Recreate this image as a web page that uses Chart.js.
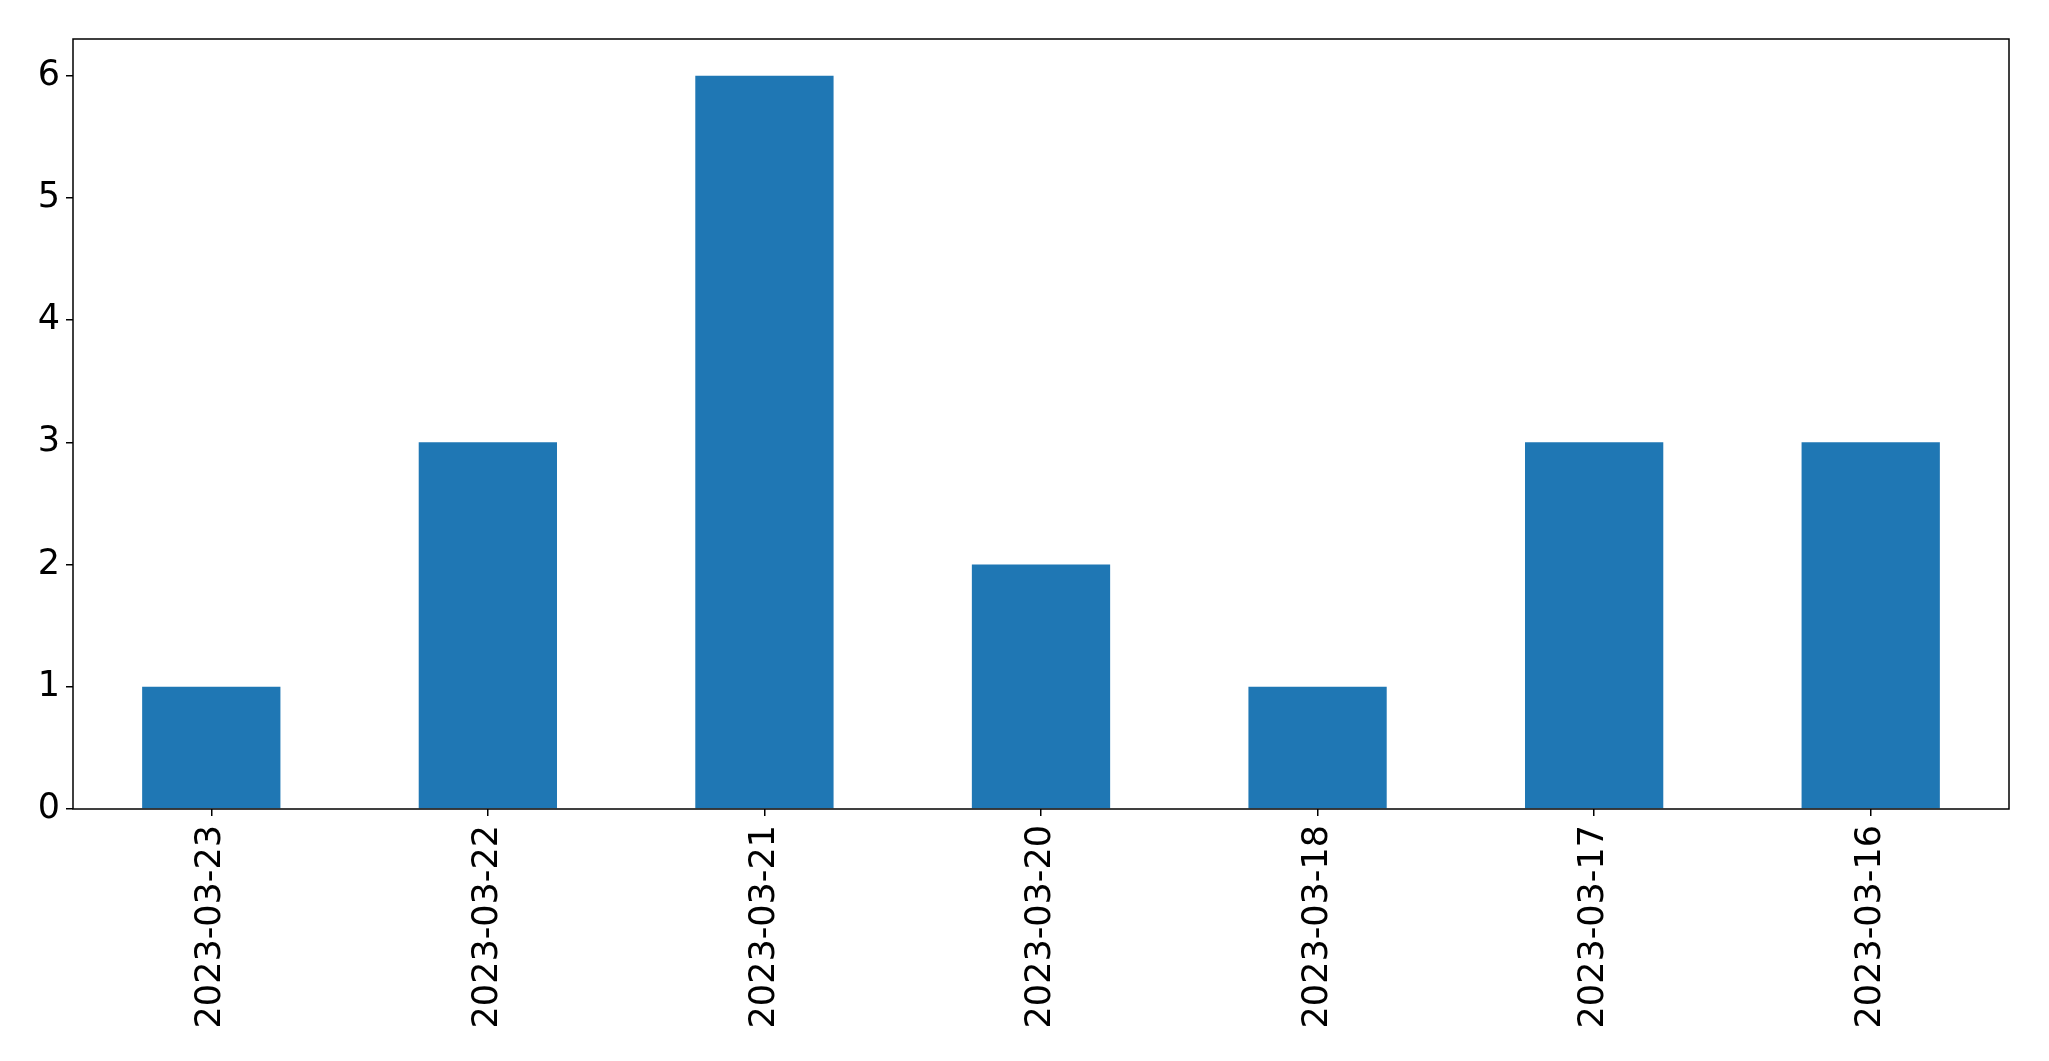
<!DOCTYPE html>
<html>
<head>
<meta charset="utf-8">
<script src="https://cdn.jsdelivr.net/npm/chart.js@4"></script>
<style>
  html, body { margin: 0; padding: 0; background: #fff; }
  #wrap { width: 2049px; height: 1061px; }
</style>
</head>
<body>
<div id="wrap"><canvas id="grafico" width="2049" height="1061"></canvas></div>
<script>
const dias = ['2023-03-23', '2023-03-22', '2023-03-21', '2023-03-20', '2023-03-18', '2023-03-17', '2023-03-16'];
const contagem = [1, 3, 6, 2, 1, 3, 3];
const yTicks = [0, 1, 2, 3, 4, 5, 6];

// moldura preta em volta da area do grafico
const moldura = {
  id: 'moldura',
  afterDraw(chart) {
    const { ctx, chartArea } = chart;
    ctx.save();
    ctx.strokeStyle = '#000';
    ctx.lineWidth = 1.5;
    ctx.strokeRect(chartArea.left, chartArea.top, chartArea.right - chartArea.left, chartArea.bottom - chartArea.top);
    ctx.restore();
  }
};

const fonte = { family: 'DejaVu Sans', size: 35 };

new Chart(document.getElementById('grafico'), {
  type: 'bar',
  data: {
    labels: dias,
    datasets: [{
      data: contagem,
      backgroundColor: '#1f77b4',
      borderWidth: 0,
      categoryPercentage: 1,
      barPercentage: 0.5
    }]
  },
  options: {
    responsive: false,
    animation: false,
    layout: { padding: { top: 39, right: 40, left: 0, bottom: 0 } },
    plugins: { legend: { display: false }, tooltip: { enabled: false } },
    scales: {
      x: {
        offset: true,
        grid: { offset: false, drawOnChartArea: false, drawTicks: true, tickLength: 7, color: '#000', lineWidth: 1.5 },
        border: { display: false },
        ticks: { color: '#000', font: fonte, minRotation: 90, maxRotation: 90, padding: 9, autoSkip: false },
        afterFit(scale) { scale.height = 252; }
      },
      y: {
        min: 0,
        max: 6.3,
        afterBuildTicks(scale) { scale.ticks = yTicks.map(v => ({ value: v })); },
        grid: { drawOnChartArea: false, drawTicks: true, tickLength: 7, color: '#000', lineWidth: 1.5 },
        border: { display: false },
        ticks: { color: '#000', font: fonte, padding: 6 },
        afterFit(scale) { scale.width = 73; }
      }
    }
  },
  plugins: [moldura]
});
</script>
</body>
</html>
